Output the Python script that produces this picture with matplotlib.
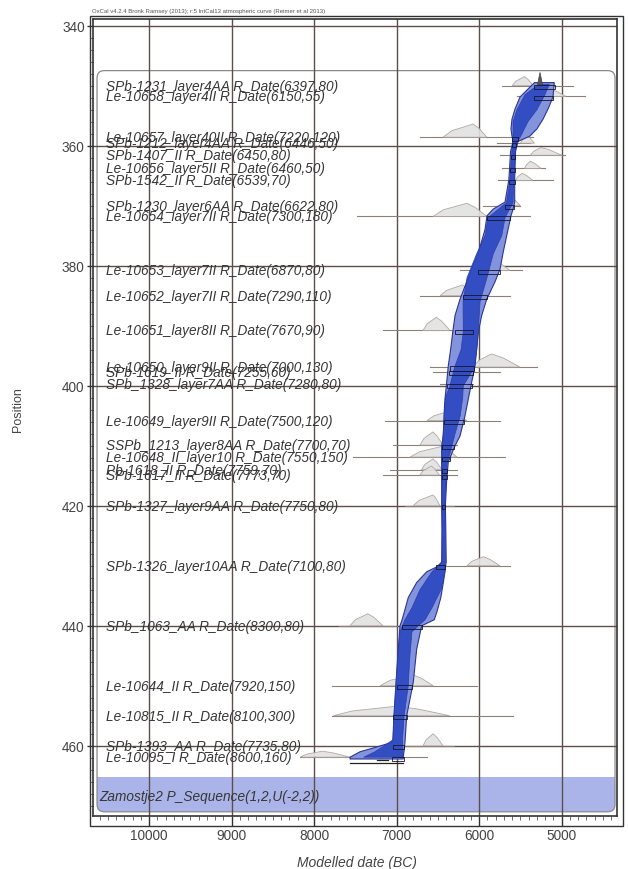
import matplotlib
matplotlib.use("Agg")
import matplotlib.pyplot as plt
from matplotlib.patches import FancyBboxPatch, Rectangle, Polygon
from matplotlib.ticker import MultipleLocator

plt.rcParams['font.family'] = ['Liberation Sans', 'DejaVu Sans']

# ---- R_Date entries (label, depth) ----
labels = [
    "SPb-1231_layer4AA R_Date(6397,80)",
    "Le-10658_layer4II R_Date(6150,55)",
    "Le-10657_layer40II R_Date(7220,120)",
    "SPb-1212_layer4AA R_Date(6446,50)",
    "SPb-1407_II R_Date(6450,80)",
    "Le-10656_layer5II R_Date(6460,50)",
    "SPb-1542_II R_Date(6539,70)",
    "SPb-1230_layer6AA R_Date(6622,80)",
    "Le-10654_layer7II R_Date(7300,180)",
    "Le-10653_layer7II R_Date(6870,80)",
    "Le-10652_layer7II R_Date(7290,110)",
    "Le-10651_layer8II R_Date(7670,90)",
    "Le-10650_layer9II R_Date(7000,130)",
    "SPb-1619_II R_Date(7255,60)",
    "SPb_1328_layer7AA R_Date(7280,80)",
    "Le-10649_layer9II R_Date(7500,120)",
    "SSPb_1213_layer8AA R_Date(7700,70)",
    "Le-10648_II_layer10 R_Date(7550,150)",
    "Pb-1618_II R_Date(7759,70)",
    "SPb-1617_II R_Date(7773,70)",
    "SPb-1327_layer9AA R_Date(7750,80)",
    "SPb-1326_layer10AA R_Date(7100,80)",
    "SPb_1063_AA R_Date(8300,80)",
    "Le-10644_II R_Date(7920,150)",
    "Le-10815_II R_Date(8100,300)",
    "SPb-1393_AA R_Date(7735,80)",
    "Le-10095_I R_Date(8600,160)",
]
depths = [350.0, 351.8, 358.6, 359.6, 361.6, 363.8, 365.8, 370.0, 371.8,
          380.8, 385.0, 390.8, 396.9, 397.7, 399.8, 405.8, 409.9, 411.9,
          414.0, 414.9, 420.0, 430.0, 440.0, 450.0, 455.0, 460.0, 461.9]

# calibrated likelihood ranges (cal BC): baseline extent
line_lo = [5727, 5546, 6718, 5784, 5748, 5727, 5772, 5954, 7485, 6233, 6718,
           7166, 6596, 6560, 6475, 7142, 7045, 7530, 7081, 7166, 6900, 6439,
           7700, 7788, 7780, 7000, 8170]
line_hi = [4860, 4718, 5344, 5384, 4960, 5203, 5106, 5506, 5384, 5485, 5627,
           6030, 5303, 5748, 6075, 5748, 6269, 5687, 6269, 6269, 6300, 5627,
           7000, 6030, 5590, 6300, 6636]
# likelihood humps: start, peak, end (cal BC) and height (depth units)
hump_lo = [5600, 5200, 6439, 5500, 5380, 5450, 5560, 5700, 6560, 6030, 6475,
           6681, 6075, 6300, 6350, 6633, 6718, 6839, 6700, 6720, 6800, 6148,
           7566, 7202, 7770, 6680, 8172]
hump_pk = [5450, 5100, 6075, 5420, 5250, 5380, 5480, 5600, 6150, 5800, 6200,
           6520, 5850, 6200, 6200, 6350, 6560, 6450, 6560, 6580, 6560, 5950,
           7350, 6800, 7000, 6560, 7900]
hump_hi = [5347, 4950, 5906, 5330, 5000, 5250, 5350, 5500, 5906, 5627, 6075,
           6354, 5506, 6100, 6120, 6148, 6439, 6269, 6450, 6480, 6475, 5748,
           7166, 6556, 6354, 6439, 7566]
hump_h = [1.5, 1.0, 2.2, 1.2, 1.3, 1.2, 1.2, 1.2, 2.2, 1.5, 1.8, 2.2, 2.2,
          1.0, 0.8, 1.6, 2.2, 1.8, 1.8, 1.5, 1.8, 1.5, 2.0, 1.8, 1.6, 2.0, 1.0]
# modelled ranges at each sample depth (cal BC)
post_lo = [5330, 5330, 5600, 5600, 5620, 5630, 5640, 5690, 5906, 6014, 6196,
           6293, 6360, 6370, 6390, 6427, 6450, 6455, 6455, 6455, 6455, 6520,
           6939, 7000, 7041, 7050, 7060]
post_hi = [5080, 5100, 5530, 5560, 5570, 5570, 5570, 5580, 5627, 5748, 5909,
           6075, 6060, 6070, 6090, 6180, 6300, 6360, 6390, 6395, 6410, 6410,
           6697, 6818, 6879, 6910, 6915]

# ---- depth model envelopes (depth, older edge, younger edge) ----
env95_depth = [349.5, 351.9, 353.9, 355.6, 357.2, 358.4, 359.3, 361.0, 365.6,
               369.4, 370.6, 371.7, 374.0, 377.8, 380.6, 382.7, 385.6, 388.3,
               391.1, 393.9, 396.7, 399.4, 402.2, 405.0, 408.4, 410.0, 412.7,
               415.6, 420.0, 424.0, 429.4, 430.2, 431.0, 432.8, 435.3, 437.8,
               439.0, 440.0, 443.9, 449.4, 455.0, 459.4, 460.2, 461.0, 461.9,
               462.2]
env95_old = [5330, 5506, 5566, 5603, 5615, 5603, 5590, 5620, 5640, 5687, 5833,
             5906, 5930, 6010, 6091, 6152, 6233, 6293, 6321, 6346, 6375, 6394,
             6415, 6427, 6435, 6455, 6455, 6455, 6455, 6451, 6455, 6515, 6636,
             6758, 6860, 6910, 6935, 6960, 6981, 7008, 7033, 7048, 7242, 7445,
             7566, 7566]
env95_young = [5090, 5106, 5166, 5227, 5300, 5384, 5530, 5560, 5570, 5570,
               5590, 5615, 5651, 5710, 5748, 5809, 5909, 5970, 6011, 6030,
               6051, 6091, 6132, 6172, 6233, 6293, 6375, 6394, 6410, 6405,
               6400, 6410, 6415, 6435, 6465, 6515, 6545, 6697, 6758, 6799,
               6879, 6900, 6905, 6912, 6920, 6920]

env68_depth = [349.8, 351.5, 354.0, 356.0, 358.0, 360.0, 366.0, 369.5, 372.0,
               375.0, 378.0, 382.0, 386.0, 391.0, 394.0, 397.0, 400.0, 402.0,
               405.0, 408.0, 410.0, 413.0, 420.0, 429.5, 431.0, 434.0, 437.0,
               439.0, 441.0, 445.0, 450.0, 455.0, 459.0, 461.0, 461.9]
env68_old = [5280, 5445, 5542, 5590, 5590, 5600, 5630, 5670, 5893, 5930, 6030,
             6148, 6196, 6193, 6220, 6300, 6354, 6410, 6420, 6438, 6450, 6450,
             6450, 6450, 6572, 6718, 6815, 6900, 6960, 6985, 7010, 7033, 7045,
             7263, 7400]
env68_young = [5150, 5203, 5300, 5409, 5481, 5560, 5580, 5590, 5687, 5727,
               5829, 5906, 5990, 6011, 6030, 6060, 6193, 6200, 6230, 6293,
               6330, 6390, 6415, 6410, 6415, 6463, 6572, 6657, 6815, 6840,
               6860, 6910, 6930, 6924, 6930]

# sequence start ranges shown below the model
start_95 = (7566, 6920)
start_68 = (7240, 7100)
end_peak = 5263

group_label = "Zamostje2 P_Sequence(1,2,U(-2,2))"
group_x = (10632, 4354)
group_y = (347.5, 471.0)
band_top = 465.2

x_ticks = [10000, 9000, 8000, 7000, 6000, 5000]
y_ticks = [340, 360, 380, 400, 420, 440, 460]
caption = ("OxCal v4.2.4 Bronk Ramsey (2013); r:5 IntCal13 atmospheric curve "
           "(Reimer et al 2013)")

W, H = 628, 870
fig = plt.figure(figsize=(W / 100, H / 100), dpi=100)
ax_l, ax_r, ax_t, ax_b = 93, 617, 20, 817
ax = fig.add_axes([ax_l / W, 1 - ax_b / H, (ax_r - ax_l) / W, (ax_b - ax_t) / H])
ax.set_xlim(10681, 4330)
ax.set_ylim(471.7, 338.9)

ink = '#363636'
grid_c = '#5c4f4a'

# group frame with rounded corners
to_axes = ax.transData + ax.transAxes.inverted()
(gx0, gy0) = to_axes.transform((group_x[0], group_y[1]))
(gx1, gy1) = to_axes.transform((group_x[1], group_y[0]))
(_, by) = to_axes.transform((group_x[0], band_top))
asp = (ax_r - ax_l) / (ax_b - ax_t)
rr = 0.014
ax.add_patch(FancyBboxPatch((gx0, gy0), gx1 - gx0, by - gy0,
                            boxstyle=f"round,pad=0,rounding_size={rr}",
                            mutation_aspect=asp, transform=ax.transAxes,
                            facecolor='#aab4e8', edgecolor='none', zorder=1))
ax.add_patch(Rectangle((gx0, by - 0.02), gx1 - gx0, 0.02, transform=ax.transAxes,
                       facecolor='#aab4e8', edgecolor='none', zorder=1))
ax.add_patch(FancyBboxPatch((gx0, gy0), gx1 - gx0, gy1 - gy0,
                            boxstyle=f"round,pad=0,rounding_size={rr}",
                            mutation_aspect=asp, transform=ax.transAxes,
                            facecolor='none', edgecolor='#8a8a8a', lw=0.9,
                            zorder=1.5))

# grid
for xt in x_ticks:
    ax.axvline(xt, color=grid_c, lw=1.0, zorder=2)
for yt in y_ticks:
    ax.axhline(yt, color=grid_c, lw=1.0, zorder=2)

# likelihood distributions
for d, l0, l1, h0, pk, h1, hh in zip(depths, line_lo, line_hi, hump_lo,
                                     hump_pk, hump_hi, hump_h):
    ax.plot([l0, l1], [d, d], color='#8c8079', lw=0.8, zorder=3)
    xs = [h0, h0 + 0.3 * (pk - h0), pk, pk + 0.4 * (h1 - pk), h1]
    ys = [d, d - 0.5 * hh, d - hh, d - 0.7 * hh, d]
    ax.add_patch(Polygon(list(zip(xs, ys)), closed=True, facecolor='#e2e2e2',
                         edgecolor='#aaa29b', lw=0.6, alpha=0.9, zorder=3))

# depth model envelopes
env95 = list(zip(env95_old, env95_depth)) + list(zip(env95_young[::-1], env95_depth[::-1]))
ax.add_patch(Polygon(env95, closed=True, facecolor='#8393dc',
                     edgecolor='#2b3596', lw=0.8, zorder=4))
env68 = list(zip(env68_old, env68_depth)) + list(zip(env68_young[::-1], env68_depth[::-1]))
ax.add_patch(Polygon(env68, closed=True, facecolor='#2d49c0',
                     edgecolor='#2a3aa8', lw=0.5, alpha=0.93, zorder=4.2))

# modelled ranges at sample depths
for d, p0, p1 in zip(depths, post_lo, post_hi):
    ax.add_patch(Rectangle((p0, d - 0.1), p1 - p0, 0.7, facecolor='none',
                           edgecolor='#15152a', lw=0.6, zorder=5))

# end boundary and start ranges
ax.add_patch(Polygon([(end_peak + 30, 349.8), (end_peak, 347.8),
                      (end_peak - 30, 349.8)], closed=True,
                     facecolor='#555555', edgecolor='#444444', lw=0.5, zorder=5))
ax.plot(list(start_95), [462.9, 462.9], color='#222222', lw=0.9, zorder=5)
ax.plot(list(start_68), [462.4, 462.4], color='#222222', lw=0.9, zorder=5)

# labels
lab_x = 10521
for lab, d in zip(labels, depths):
    ax.text(lab_x, d, lab, fontsize=9.8, style='italic', color=ink,
            ha='left', va='center', zorder=6)
ax.text(10608, 468.4, group_label, fontsize=9.8, style='italic', color=ink,
        ha='left', va='center', zorder=6)

# axes styling
ax.set_xticks(x_ticks)
ax.set_yticks(y_ticks)
ax.xaxis.set_minor_locator(MultipleLocator(100))
ax.yaxis.set_minor_locator(MultipleLocator(2))
ax.tick_params(axis='x', which='major', direction='out', length=7, width=1.0,
               labelsize=9.8, labelcolor='#444444', pad=2, colors='#333333')
ax.tick_params(axis='x', which='minor', direction='out', length=3, width=0.6,
               colors='#555555')
ax.tick_params(axis='y', which='major', direction='out', length=4, width=1.0,
               labelsize=9.8, labelcolor='#444444', pad=2, colors='#333333')
ax.tick_params(axis='y', which='minor', direction='out', length=2, width=0.5,
               colors='#555555')
for sp in ax.spines.values():
    sp.set_color('#333333')
    sp.set_linewidth(1.2)
ax.set_facecolor('white')

# outer frame
fig.add_artist(Rectangle((90 / W, 1 - 827 / H), (623 - 90) / W, (827 - 17) / H,
                         transform=fig.transFigure, facecolor='none',
                         edgecolor='#333333', lw=1.0))

fig.text(92 / W, 1 - 12 / H, caption, fontsize=4.3, color='#555555',
         ha='left', va='center')
fig.text(357 / W, 1 - 863 / H, "Modelled date (BC)", fontsize=10,
         style='italic', color='#444444', ha='center', va='center')
fig.text(18 / W, 1 - 410 / H, "Position", fontsize=9, color='#444444',
         rotation=90, ha='center', va='center')

fig.savefig("out.png", dpi=100)
